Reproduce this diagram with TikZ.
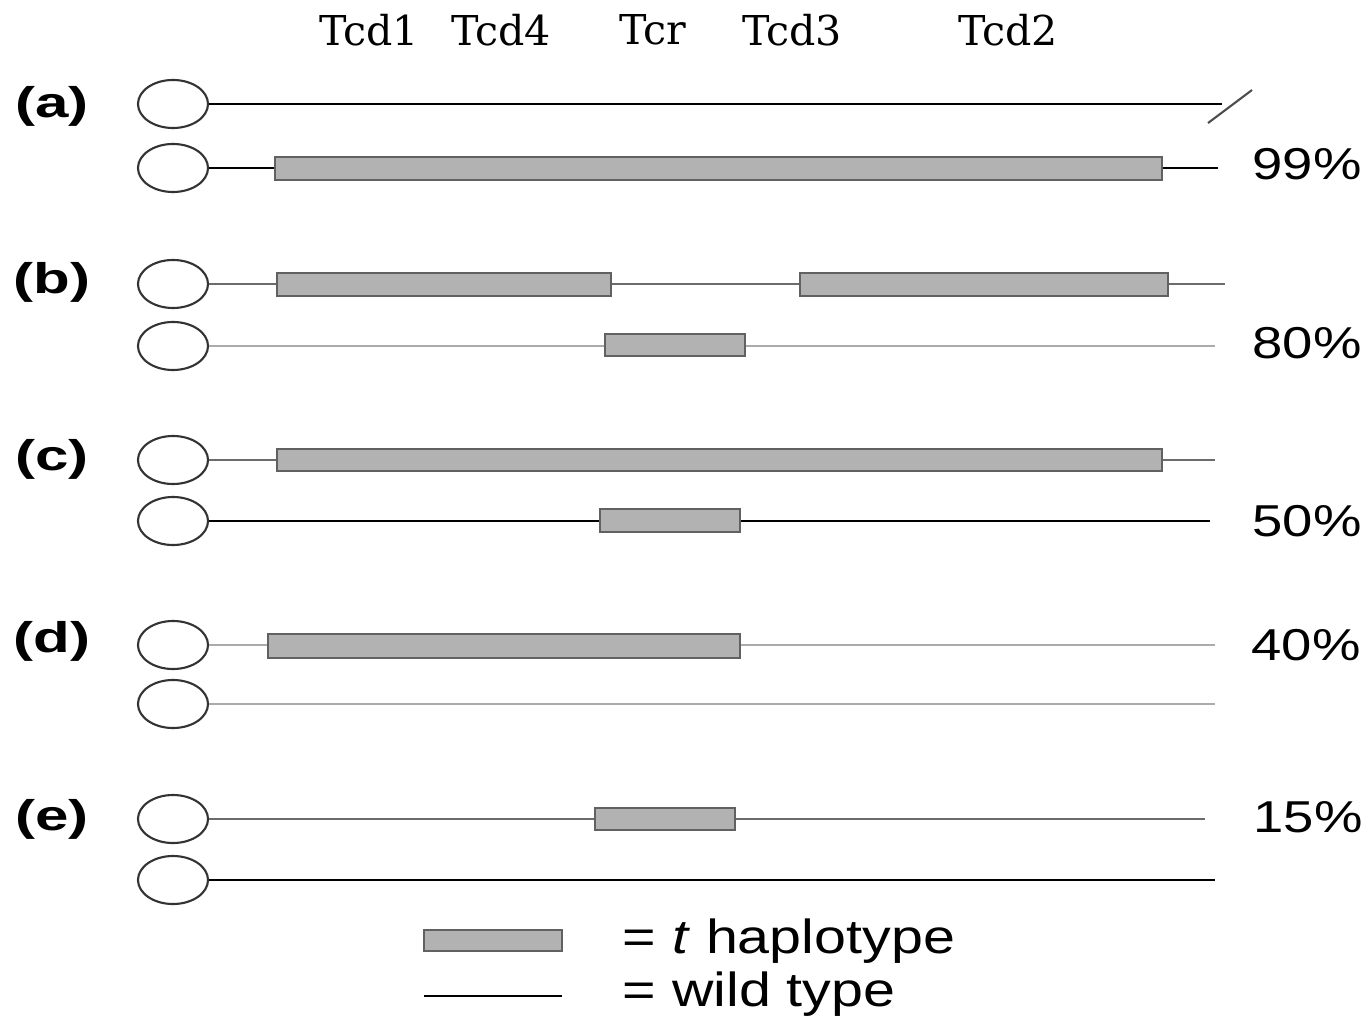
\documentclass[tikz,border=0pt]{standalone}
\usepackage{fontspec}
\setmainfont{Liberation Sans}
\newfontfamily\genefont{DejaVu Serif}
\usepackage{graphicx}
\usetikzlibrary{shapes.geometric}
\newcommand{\widen}[2]{\scalebox{#1}[1]{#2}}

\begin{document}
\begin{tikzpicture}[x=0.01cm, y=-0.01cm,
    cen/.style    = {ellipse, draw=black!80, line width=0.6pt,
                     minimum width=0.70cm, minimum height=0.48cm, inner sep=0pt},
    wt/.style     = {line width=0.75pt, draw=black},
    wtgray/.style = {wt, draw=black!58},
    wtpale/.style = {wt, draw=black!33},
    thap/.style   = {fill=black!30, draw=black!62, line width=0.8pt},
    gene/.style   = {font=\genefont\fontsize{11.7}{14}\selectfont},
    tag/.style    = {font=\bfseries\fontsize{12.2}{14}\selectfont},
    pct/.style    = {font=\fontsize{12.7}{15}\selectfont},
    key/.style    = {font=\fontsize{13.6}{16}\selectfont, anchor=base west, inner sep=0pt}
]
\useasboundingbox (0,0) rectangle (1371,1016);

%% ---- gene names ----
\node[gene] (tcd1) at (369,30)  {Tcd1};
\node[gene] (tcd4) at (501,30)  {Tcd4};
\node[gene] (tcr)  at (653,30)  {Tcr};
\node[gene] (tcd3) at (792,30)  {Tcd3};
\node[gene] (tcd2) at (1008,30) {Tcd2};

%% ---- centromeres ----
\foreach \n/\y in {a1/104, a2/168, b1/284, b2/346, c1/460, c2/521,
                   d1/645, d2/704, e1/819, e2/880}
    \node[cen] (\n) at (173,\y) {};

%% ---- (a) ----
\node[tag] (la) at (52,106) {\widen{1.4}{(a)}};
\coordinate (a1e) at (1222,104);
\coordinate (a2e) at (1218,168);
\draw[wt] (a1) -- (a1e);
\draw[wt] (a2) -- (a2e);
\draw[thap] (275,157) rectangle (1162,180);
\draw[black!70, line width=0.6pt] (a1e) ++(-14,19) -- ++(44,-33);
\node[pct] (pa) at (1307,164) {\widen{1.22}{99\%}};

%% ---- (b) ----
\node[tag] (lb) at (52,282) {\widen{1.4}{(b)}};
\coordinate (b1e) at (1225,284);
\coordinate (b2e) at (1215,346);
\draw[wtgray] (b1) -- (b1e);
\draw[wtpale] (b2) -- (b2e);
\draw[thap] (277,273) rectangle (611,296);
\draw[thap] (800,273) rectangle (1168,296);
\draw[thap] (605,334) rectangle (745,356);
\node[pct] (pb) at (1307,343) {\widen{1.22}{80\%}};

%% ---- (c) ----
\node[tag] (lc) at (52,459) {\widen{1.4}{(c)}};
\coordinate (c1e) at (1215,460);
\coordinate (c2e) at (1210,521);
\draw[wtgray] (c1) -- (c1e);
\draw[wt] (c2) -- (c2e);
\draw[thap] (277,449) rectangle (1162,471);
\draw[thap] (600,509) rectangle (740,532);
\node[pct] (pc) at (1307,521) {\widen{1.22}{50\%}};

%% ---- (d) ----
\node[tag] (ld) at (52,641) {\widen{1.4}{(d)}};
\coordinate (d1e) at (1215,645);
\coordinate (d2e) at (1215,704);
\draw[wtpale] (d1) -- (d1e);
\draw[wtpale] (d2) -- (d2e);
\draw[thap] (268,634) rectangle (740,658);
\node[pct] (pd) at (1306,645) {\widen{1.22}{40\%}};

%% ---- (e) ----
\node[tag] (le) at (52,819) {\widen{1.4}{(e)}};
\coordinate (e1e) at (1205,819);
\coordinate (e2e) at (1215,880);
\draw[wtgray] (e1) -- (e1e);
\draw[wt] (e2) -- (e2e);
\draw[thap] (595,808) rectangle (735,830);
\node[pct] (pe) at (1308,817) {\widen{1.22}{15\%}};

%% ---- legend ----
\draw[thap] (424,930) rectangle (562,951);
\node[key] (kt) at (622,953) {\widen{1.2}{= \textit{t} haplotype}};
\coordinate (kwl) at (424,996);
\coordinate (kwr) at (562,996);
\draw[wt] (kwl) -- (kwr);
\node[key] (kw) at (622,1006) {\widen{1.2}{= wild type}};

\end{tikzpicture}
\end{document}
